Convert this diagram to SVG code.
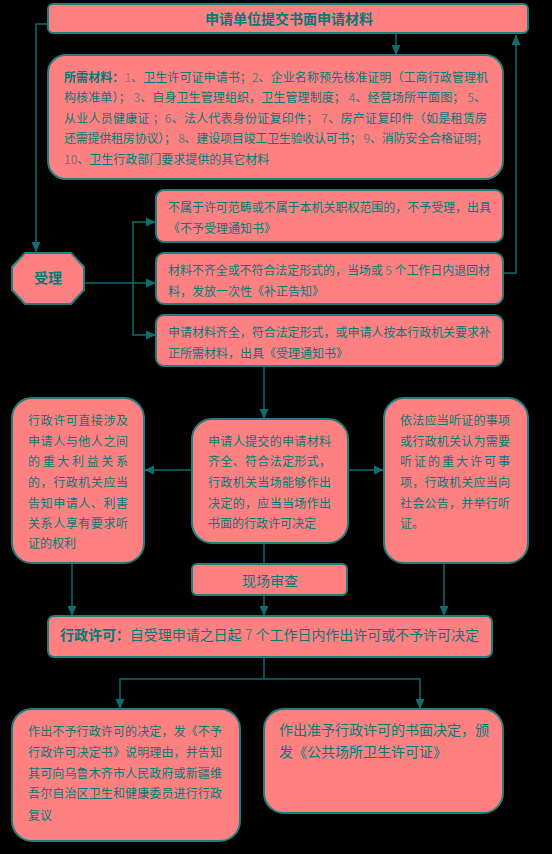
<svg xmlns="http://www.w3.org/2000/svg" width="552" height="854" viewBox="0 0 552 854">
<style>
.box{fill:#FF8080;stroke:#1E7F7F;stroke-width:2}
.t{font-family:"Noto Sans CJK SC","Noto Sans",sans-serif;font-size:12px;fill:#007B7B}
.t14{font-family:"Noto Sans CJK SC","Noto Sans",sans-serif;font-size:14px;fill:#007B7B}
.b{font-weight:bold}
.num{fill:#5E7C7C}
.num1{fill:#B86A7C}
.c{fill:none;stroke:#0E6E6E;stroke-width:1.5}
</style>
<defs>
<marker id="ah" markerUnits="userSpaceOnUse" markerWidth="12" markerHeight="12" viewBox="0 0 12 12" refX="11" refY="6" orient="auto">
<path d="M1,1.5 L11,6 L1,10.5 Z" fill="#0E6E6E"/>
</marker>
</defs>
<rect width="552" height="854" fill="#000"/>

<g id="connectors">
<path class="c" d="M396,33 V55" marker-end="url(#ah)"/>
<path class="c" d="M47,24 H36 V252" marker-end="url(#ah)"/>
<path class="c" d="M84,283 H156" marker-end="url(#ah)"/>
<path class="c" d="M133,283 V222 H156" marker-end="url(#ah)"/>
<path class="c" d="M133,283 V335 H156" marker-end="url(#ah)"/>
<path class="c" d="M503,273 H516 V35" marker-end="url(#ah)"/>
<path class="c" d="M264,366 V419" marker-end="url(#ah)"/>
<path class="c" d="M192,470 H144" marker-end="url(#ah)"/>
<path class="c" d="M348,470 H384" marker-end="url(#ah)"/>
<path class="c" d="M264,543 V564"/>
<path class="c" d="M264,595 V616" marker-end="url(#ah)"/>
<path class="c" d="M72,563 V616" marker-end="url(#ah)"/>
<path class="c" d="M444,563 V616" marker-end="url(#ah)"/>
<path class="c" d="M264,657 V679 H120 V709" marker-end="url(#ah)"/>
<path class="c" d="M264,679 H420 V709" marker-end="url(#ah)"/>
</g>

<g id="submit">
<rect class="box" x="48" y="4" width="480" height="29" rx="5"/>
<text class="t14 b" x="289" y="24" text-anchor="middle">申请单位提交书面申请材料</text>
</g>

<g id="materials">
<rect class="box" x="48" y="55" width="455" height="124" rx="18"/>
<text class="t" x="64" y="82" textLength="424" lengthAdjust="spacing"><tspan class="b">所需材料：</tspan><tspan class="num1">1</tspan>、卫生许可证申请书；<tspan class="num">2</tspan>、企业名称预先核准证明（工商行政管理机</text>
<text class="t" x="64" y="102" textLength="422" lengthAdjust="spacing">构核准单）； <tspan class="num">3</tspan>、自身卫生管理组织，卫生管理制度； <tspan class="num">4</tspan>、经营场所平面图； <tspan class="num">5</tspan>、</text>
<text class="t" x="64" y="123" textLength="423" lengthAdjust="spacing">从业人员健康证 ；<tspan class="num">6</tspan>、法人代表身份证复印件； <tspan class="num">7</tspan>、房产证复印件（如是租赁房</text>
<text class="t" x="64" y="143" textLength="424" lengthAdjust="spacing">还需提供租房协议）； <tspan class="num">8</tspan>、建设项目竣工卫生验收认可书； <tspan class="num">9</tspan>、消防安全合格证明；</text>
<text class="t" x="64" y="164"><tspan class="num">10</tspan>、卫生行政部门要求提供的其它材料</text>
</g>

<g id="accept">
<polygon class="box" points="25,253 71,253 84,267 84,290 71,304 25,304 12,290 12,267"/>
<text class="t14 b" x="48" y="283" text-anchor="middle">受理</text>
</g>

<g id="reject">
<rect class="box" x="156" y="190" width="347" height="52" rx="8"/>
<text class="t" x="168" y="212" textLength="323" lengthAdjust="spacing">不属于许可范畴或不属于本机关职权范围的，不予受理，出具</text>
<text class="t" x="168" y="233">《不予受理通知书》</text>
</g>

<g id="supplement">
<rect class="box" x="156" y="253" width="347" height="51" rx="8"/>
<text class="t" x="168" y="275" textLength="322" lengthAdjust="spacing">材料不齐全或不符合法定形式的，当场或 <tspan class="num">5</tspan> 个工作日内退回材</text>
<text class="t" x="168" y="296">料，发放一次性《补正告知》</text>
</g>

<g id="accepted">
<rect class="box" x="156" y="315" width="347" height="51" rx="8"/>
<text class="t" x="168" y="337" textLength="323" lengthAdjust="spacing">申请材料齐全，符合法定形式，或申请人按本行政机关要求补</text>
<text class="t" x="168" y="358">正所需材料，出具《受理通知书》</text>
</g>

<g id="hearing-right">
<rect class="box" x="12" y="398" width="132" height="165" rx="20"/>
<text class="t" x="28" y="425" textLength="100" lengthAdjust="spacing">行政许可直接涉及</text>
<text class="t" x="28" y="446" textLength="100" lengthAdjust="spacing">申请人与他人之间</text>
<text class="t" x="28" y="466" textLength="100" lengthAdjust="spacing">的重大利益关系</text>
<text class="t" x="28" y="487" textLength="100" lengthAdjust="spacing">的，行政机关应当</text>
<text class="t" x="28" y="508" textLength="100" lengthAdjust="spacing">告知申请人、利害</text>
<text class="t" x="28" y="528" textLength="100" lengthAdjust="spacing">关系人享有要求听</text>
<text class="t" x="28" y="548">证的权利</text>
</g>

<g id="onsite-decision">
<rect class="box" x="192" y="419" width="156" height="124" rx="20"/>
<text class="t" x="208" y="446" textLength="123" lengthAdjust="spacing">申请人提交的申请材料</text>
<text class="t" x="208" y="466" textLength="123" lengthAdjust="spacing">齐全、符合法定形式，</text>
<text class="t" x="208" y="487" textLength="123" lengthAdjust="spacing">行政机关当场能够作出</text>
<text class="t" x="208" y="508" textLength="123" lengthAdjust="spacing">决定的，应当当场作出</text>
<text class="t" x="208" y="528">书面的行政许可决定</text>
</g>

<g id="public-hearing">
<rect class="box" x="384" y="398" width="144" height="165" rx="20"/>
<text class="t" x="400" y="425" textLength="110" lengthAdjust="spacing">依法应当听证的事项</text>
<text class="t" x="400" y="446" textLength="110" lengthAdjust="spacing">或行政机关认为需要</text>
<text class="t" x="400" y="466" textLength="110" lengthAdjust="spacing">听证的重大许可事</text>
<text class="t" x="400" y="487" textLength="110" lengthAdjust="spacing">项，行政机关应当向</text>
<text class="t" x="400" y="508" textLength="110" lengthAdjust="spacing">社会公告，并举行听</text>
<text class="t" x="400" y="528">证。</text>
</g>

<g id="site-review">
<rect class="box" x="192" y="564" width="155" height="31" rx="5"/>
<text class="t14" x="270" y="586" text-anchor="middle">现场审查</text>
</g>

<g id="license">
<rect class="box" x="48" y="616" width="444" height="41" rx="6"/>
<text class="t14" x="60" y="640" textLength="419" lengthAdjust="spacing"><tspan class="b">行政许可：</tspan>自受理申请之日起 <tspan class="num">7</tspan> 个工作日内作出许可或不予许可决定</text>
</g>

<g id="deny">
<rect class="box" x="12" y="709" width="228" height="132" rx="20"/>
<text class="t" x="28" y="736" textLength="194" lengthAdjust="spacing">作出不予行政许可的决定，发《不予</text>
<text class="t" x="28" y="757" textLength="194" lengthAdjust="spacing">行政许可决定书》说明理由，并告知</text>
<text class="t" x="28" y="778" textLength="194" lengthAdjust="spacing">其可向乌鲁木齐市人民政府或新疆维</text>
<text class="t" x="28" y="798" textLength="194" lengthAdjust="spacing">吾尔自治区卫生和健康委员进行行政</text>
<text class="t" x="28" y="820">复议</text>
</g>

<g id="grant">
<rect class="box" x="264" y="709" width="239" height="104" rx="20"/>
<text class="t14" x="279" y="735" textLength="210" lengthAdjust="spacing">作出准予行政许可的书面决定，颁</text>
<text class="t14" x="279" y="757">发《公共场所卫生许可证》</text>
</g>
</svg>
